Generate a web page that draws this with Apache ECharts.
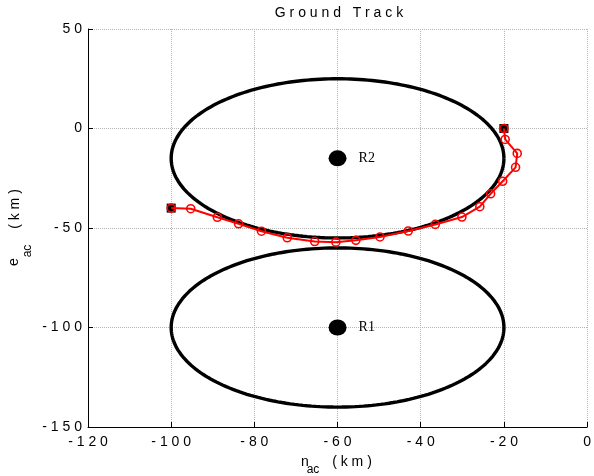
<!DOCTYPE html>
<html>
<head>
<meta charset="utf-8">
<script src="https://cdn.jsdelivr.net/npm/echarts@6/dist/echarts.min.js"></script>
<style>html,body{margin:0;padding:0;background:#fff}#c{width:594px;height:476px}</style>
</head>
<body>
<div id="c"></div>
<script>
// ---- data ----
var xTicks = [-120, -100, -80, -60, -40, -20, 0];
var yTicks = [-150, -100, -50, 0, 50];
var regionNames = ['R2', 'R1'];
var regionN = [-60, -60];
var regionE = [-15, -100];
var regionRadius = [40, 40];
var trackN = [-20, -19.7, -16.8, -17.2, -20.3, -23.2, -25.8, -30.1, -36.5, -43.0, -49.8, -55.6, -60.4, -65.5, -72.1, -78.3, -83.8, -88.9, -95.3, -100];
var trackE = [0, -5.5, -12.5, -19.5, -26.5, -32.8, -39.3, -44.5, -48.2, -51.5, -54.5, -56.2, -57.1, -56.8, -54.9, -51.6, -47.9, -44.6, -40.3, -40];

// ---- build ----
function spaced(v){ return String(v).split('').join(' '); }
function ring(cx, cy, r){
  var pts = [];
  for (var i = 0; i <= 240; i++){
    var t = i / 240 * 2 * Math.PI;
    pts.push([cx + r * Math.cos(t), cy + r * Math.sin(t)]);
  }
  return pts;
}
var font = '"Liberation Sans", Arial, sans-serif';
var series = [];
for (var k = 0; k < regionNames.length; k++){
  series.push({
    type: 'line', data: ring(regionN[k], regionE[k], regionRadius[k]),
    showSymbol: false, symbol: 'none', smooth: false,
    lineStyle: {color: '#000', width: 3.4}, silent: true
  });
}
var trackData = trackN.map(function(n, i){ return [n, trackE[i]]; });
series.push({
  type: 'scatter',
  data: [trackData[0], trackData[trackData.length - 1]],
  symbol: 'rect', symbolSize: 9,
  itemStyle: {color: '#000', opacity: 1}
});
series.push({
  type: 'line', data: trackData,
  symbol: 'circle', symbolSize: 8, showAllSymbol: true,
  lineStyle: {color: '#ff0000', width: 2},
  itemStyle: {color: 'rgba(255,255,255,0)', borderColor: '#ff0000', borderWidth: 1.6, opacity: 1}
});
series.push({
  type: 'scatter',
  data: regionNames.map(function(nm, i){ return {name: nm, value: [regionN[i], regionE[i]]}; }),
  symbol: 'circle', symbolSize: [18, 16],
  itemStyle: {color: '#000', opacity: 1},
  label: {show: true, position: 'right', distance: 12, formatter: '{b}',
          fontFamily: '"Liberation Serif", "Times New Roman", serif', fontSize: 14, color: '#000'}
});

var chart = echarts.init(document.getElementById('c'), null, {renderer: 'canvas'});
chart.setOption({
  animation: false,
  backgroundColor: '#fff',
  grid: {left: 88, right: 5, top: 29, bottom: 49},
  xAxis: {
    type: 'value', min: xTicks[0], max: xTicks[xTicks.length - 1], interval: 20,
    axisLine: {show: true, onZero: false, lineStyle: {color: '#000', width: 1}},
    axisTick: {show: true, inside: true, length: 5, lineStyle: {color: '#000'}},
    axisLabel: {formatter: spaced, fontFamily: font, fontSize: 14, color: '#000', margin: 8},
    splitLine: {show: true, lineStyle: {color: '#b4b4b4', type: 'dotted', width: 1}}
  },
  yAxis: {
    type: 'value', min: yTicks[0], max: yTicks[yTicks.length - 1], interval: 50,
    axisLine: {show: true, onZero: false, lineStyle: {color: '#000', width: 1}},
    axisTick: {show: true, inside: true, length: 5, lineStyle: {color: '#000'}},
    axisLabel: {formatter: spaced, fontFamily: font, fontSize: 14, color: '#000', margin: 6},
    splitLine: {show: true, lineStyle: {color: '#b4b4b4', type: 'dotted', width: 1}}
  },
  graphic: [
    {type: 'text', x: 339, y: 13, style: {text: 'G r o u n d   T r a c k', fill: '#000', font: '14px ' + font, align: 'center', verticalAlign: 'middle'}},
    {type: 'text', x: 305, y: 462, style: {text: 'n', fill: '#000', font: '14px ' + font, align: 'center', verticalAlign: 'middle'}},
    {type: 'text', x: 313, y: 470, style: {text: 'ac', fill: '#000', font: '12px ' + font, align: 'center', verticalAlign: 'middle'}},
    {type: 'text', x: 352, y: 462, style: {text: '( k m )', fill: '#000', font: '14px ' + font, align: 'center', verticalAlign: 'middle'}},
    {type: 'text', x: 14, y: 262, rotation: Math.PI / 2, style: {text: 'e', fill: '#000', font: '14px ' + font, align: 'center', verticalAlign: 'middle'}},
    {type: 'text', x: 28, y: 251, rotation: Math.PI / 2, style: {text: 'ac', fill: '#000', font: '12px ' + font, align: 'center', verticalAlign: 'middle'}},
    {type: 'text', x: 15, y: 209, rotation: Math.PI / 2, style: {text: '( k m )', fill: '#000', font: '14px ' + font, align: 'center', verticalAlign: 'middle'}}
  ],
  series: series
});
</script>
</body>
</html>
